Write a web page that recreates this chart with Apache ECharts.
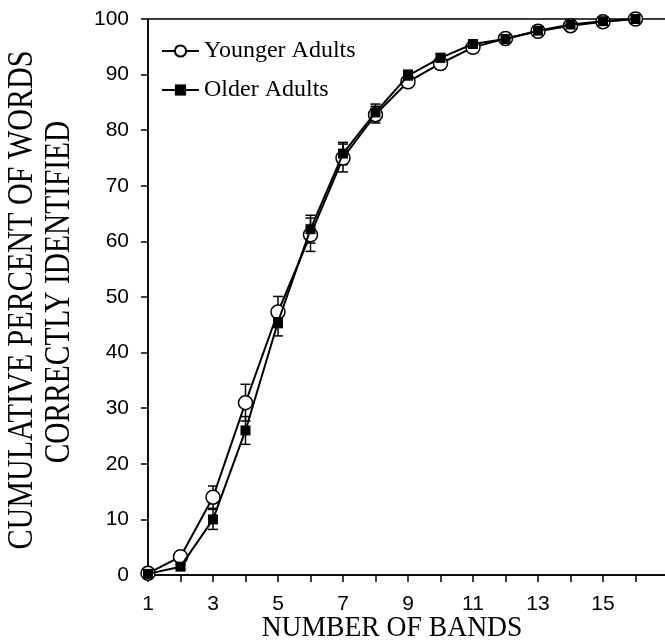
<!DOCTYPE html>
<html>
<head>
<meta charset="utf-8">
<script src="https://cdn.jsdelivr.net/npm/echarts@6/dist/echarts.min.js"></script>
<style>
  html, body { margin: 0; padding: 0; background: #fff; }
  #bandsChart { width: 665px; height: 641px; }
</style>
</head>
<body>
<div id="bandsChart"></div>
<script>
var bands = [1, 2, 3, 4, 5, 6, 7, 8, 9, 10, 11, 12, 13, 14, 15, 16];
var younger = [0.3, 3.3, 14, 31, 47.3, 61.2, 75, 82.8, 88.7, 92, 94.9, 96.5, 97.8, 98.8, 99.5, 100];
var youngerErr = [0.3, 0.5, 2, 3.3, 2.8, 3, 2.5, 1.5, 1, 1, 0.8, 0.7, 0.6, 0.5, 0.4, 0.2];
var older = [0.2, 1.5, 10, 26, 45.5, 62.2, 75.8, 83.2, 89.8, 93, 95.5, 96.4, 97.9, 99, 99.6, 100];
var olderErr = [0.2, 0.4, 1.8, 2.5, 2.5, 2.5, 2, 1.5, 1, 0.8, 0.7, 0.6, 0.5, 0.4, 0.3, 0.2];
var xTickLabels = ['1', '3', '5', '7', '9', '11', '13', '15'];

var chart = echarts.init(document.getElementById('bandsChart'));

function pairs(ys) {
  return bands.map(function(b, i) { return [b, ys[i]]; });
}

function errData(ys, errs) {
  return bands.map(function(b, i) { return [b, ys[i] - errs[i], ys[i] + errs[i]]; });
}

// vertical error bar with caps
function renderErr(params, api) {
  var lo = api.coord([api.value(0), api.value(1)]);
  var hi = api.coord([api.value(0), api.value(2)]);
  var w = 5;
  var st = { stroke: '#000', lineWidth: 1.5 };
  return {
    type: 'group',
    children: [
      { type: 'line', shape: { x1: lo[0], y1: lo[1], x2: hi[0], y2: hi[1] }, style: st },
      { type: 'line', shape: { x1: lo[0] - w, y1: lo[1], x2: lo[0] + w, y2: lo[1] }, style: st },
      { type: 'line', shape: { x1: hi[0] - w, y1: hi[1], x2: hi[0] + w, y2: hi[1] }, style: st }
    ]
  };
}

var sans = 'Liberation Sans';
var serif = 'Liberation Serif';

var option = {
  animation: false,
  backgroundColor: '#fff',
  grid: {
    left: 148,
    right: -3,
    top: 19,
    bottom: 66,
    outerBoundsMode: 'none',
    containLabel: false,
    show: true,
    borderColor: '#000',
    borderWidth: 1.5,
    backgroundColor: 'transparent'
  },
  legend: {
    orient: 'vertical',
    left: 156,
    top: 34,
    itemWidth: 37,
    itemHeight: 14,
    itemGap: 15,
    textStyle: { fontFamily: serif, fontSize: 24, color: '#000' },
    data: ['Younger Adults', 'Older Adults']
  },
  xAxis: {
    type: 'value',
    min: 1,
    max: 17,
    interval: 1,
    splitLine: { show: false },
    axisLine: { lineStyle: { color: '#000', width: 1.5 } },
    axisTick: { length: 7, lineStyle: { color: '#000', width: 1.5 } },
    axisLabel: {
      margin: 19,
      fontFamily: sans,
      fontSize: 21,
      color: '#000',
      formatter: function(v) {
        return xTickLabels.indexOf(String(v)) >= 0 ? String(v) : '';
      }
    }
  },
  yAxis: {
    type: 'value',
    min: 0,
    max: 100,
    interval: 10,
    splitLine: { show: false },
    axisLine: { lineStyle: { color: '#000', width: 1.5 } },
    axisTick: { length: 7, lineStyle: { color: '#000', width: 1.5 } },
    axisLabel: { margin: 19, fontFamily: sans, fontSize: 21, color: '#000' }
  },
  graphic: [
    {
      type: 'text', x: 392, y: 628, scaleX: 0.92,
      style: { text: 'NUMBER OF BANDS', fontFamily: serif, fontSize: 30, fill: '#000', align: 'center', verticalAlign: 'middle' }
    },
    {
      type: 'text', x: 23, y: 300, rotation: Math.PI / 2, scaleX: 0.86,
      style: { text: 'CUMULATIVE PERCENT OF WORDS', fontFamily: serif, fontSize: 35, fill: '#000', align: 'center', verticalAlign: 'middle' }
    },
    {
      type: 'text', x: 60, y: 292, rotation: Math.PI / 2, scaleX: 0.84,
      style: { text: 'CORRECTLY IDENTIFIED', fontFamily: serif, fontSize: 35, fill: '#000', align: 'center', verticalAlign: 'middle' }
    }
  ],
  series: [{
    name: 'youngerErr',
    type: 'custom',
    renderItem: renderErr,
    data: errData(younger, youngerErr),
    z: 1
  }, {
    name: 'olderErr',
    type: 'custom',
    renderItem: renderErr,
    data: errData(older, olderErr),
    z: 1
  }, {
    name: 'Younger Adults',
    type: 'line',
    data: pairs(younger),
    symbol: 'circle',
    symbolSize: 14,
    showAllSymbol: true,
    lineStyle: { color: '#000', width: 2 },
    itemStyle: { color: '#fff', borderColor: '#000', borderWidth: 1.5 },
    z: 3
  }, {
    name: 'Older Adults',
    type: 'line',
    data: pairs(older),
    symbol: 'rect',
    symbolSize: 10,
    showAllSymbol: true,
    lineStyle: { color: '#000', width: 2 },
    itemStyle: { color: '#000', borderColor: '#000', borderWidth: 0 },
    z: 4
  }]
};
chart.setOption(option);
</script>
</body>
</html>
